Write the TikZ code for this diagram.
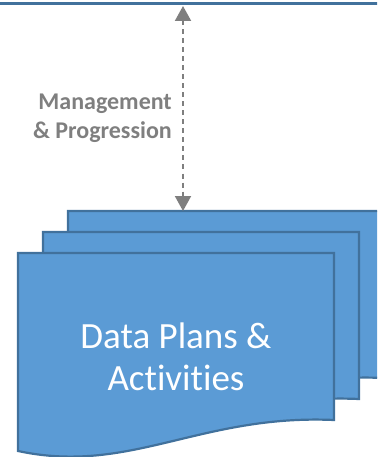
\documentclass[tikz,border=0pt]{standalone}
\usepackage{fontspec}
\setmainfont{Carlito}[Ligatures=CommonOff]
\usetikzlibrary{arrows.meta}
\definecolor{docfill}{HTML}{5B9BD5}
\definecolor{docline}{HTML}{41719C}
\definecolor{linkgray}{HTML}{7F7F7F}
\begin{document}
\begin{tikzpicture}[x=1pt, y=-1pt,
    >={Triangle[width=16pt,length=15pt]},
    doc/.style={draw=docline, fill=docfill, line width=2.2pt, line join=miter},
    bar/.style={draw=docline, line width=3.5pt},
    link/.style={<->, draw=linkgray, line width=2pt, dash pattern=on 5pt off 4pt},
    lbl/.style={text=linkgray, font=\bfseries\fontsize{24}{29}\selectfont, align=right, inner sep=0pt},
    doctext/.style={text=white, font=\fontsize{37}{42}\selectfont, align=center, inner sep=0pt}]

  \useasboundingbox (0,0) rectangle (377,457);
  \clip (0,0) rectangle (377,457);

  % top bar
  \draw[bar] (-5,3.7) -- (382,3.7);

  % stacked documents, back to front
  \foreach \dx/\dy in {50/-42, 25/-21, 0/0} {
    \draw[doc, shift={(\dx,\dy)}] (18,253) -- (334,253) -- (334,420)
      .. controls (200,414) and (130,475) .. (18,451) -- cycle;
  }

  \node[doctext] (docs) at (176,357) {Data Plans \&\\Activities};

  \coordinate (bartip) at (183,6);
  \coordinate (doctop) at (183,211);
  \draw[link] (bartip) -- (doctop);

  \node[lbl, anchor=east] (mgmt) at (172,118) {Management\\\& Progression};
\end{tikzpicture}
\end{document}
